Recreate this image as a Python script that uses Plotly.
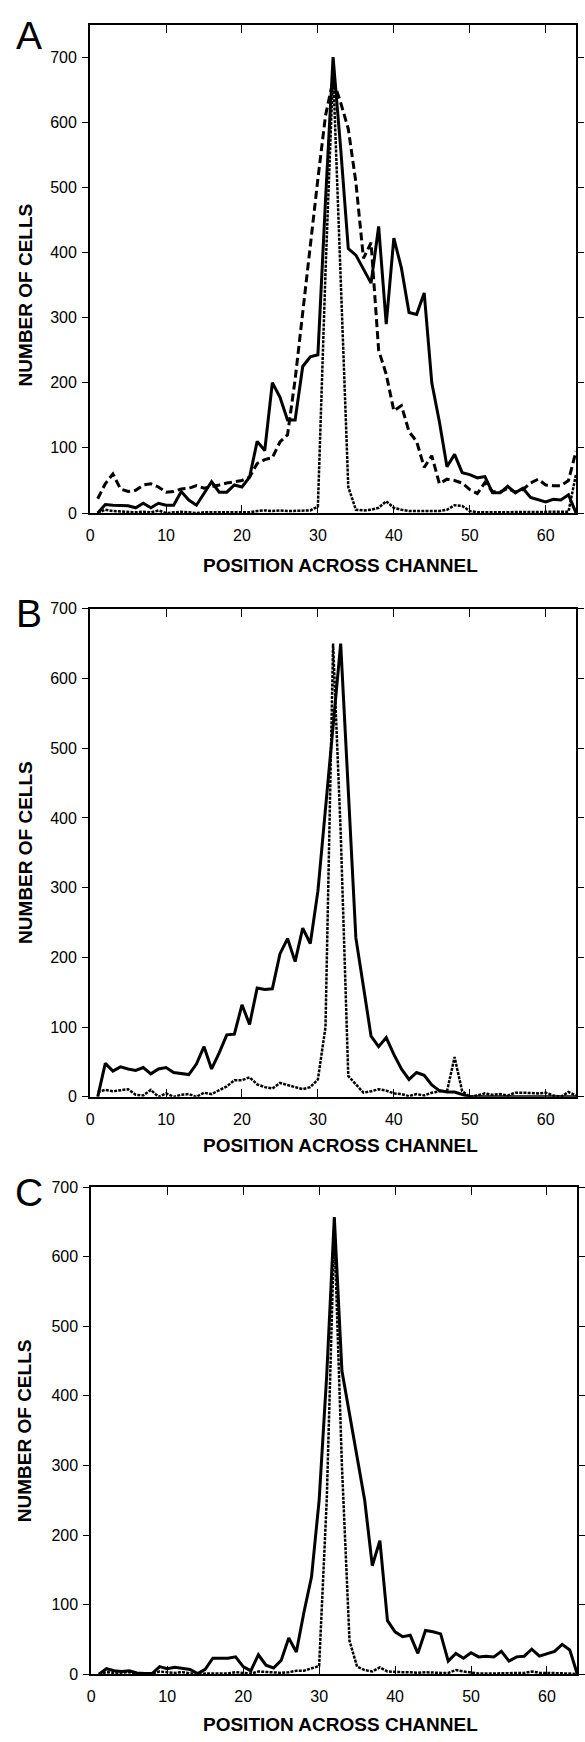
import plotly.graph_objects as go

W, H = 585, 1742

POSITIONS = list(range(1, 65))

A_SOLID = [0, 13, 12, 11, 11, 8, 15, 8, 15, 12, 12, 33, 20, 12, 30, 48, 32, 32, 43, 40,
           55, 110, 96, 200, 178, 143, 143, 225, 240, 243, 480, 700, 560, 406, 396, 375, 353, 440, 290, 422,
           376, 308, 305, 338, 200, 140, 71, 90, 62, 59, 54, 56, 31, 31, 41, 31, 38, 24, 21, 17,
           21, 20, 28, 0]
A_DASHED = [22, 45, 60, 37, 33, 35, 43, 45, 40, 32, 33, 37, 38, 42, 38, 40, 43, 46, 48, 50,
            55, 76, 82, 85, 109, 120, 205, 310, 405, 513, 610, 665, 630, 590, 508, 391, 415, 250, 213, 157,
            165, 125, 110, 70, 88, 45, 52, 50, 46, 36, 30, 47, 33, 32, 38, 32, 36, 46, 52, 43,
            42, 42, 50, 95]
A_DOTTED = [0, 5, 3, 2, 2, 1, 2, 1, 4, 0, 1, 2, 1, 0, 1, 1, 1, 1, 1, 2,
            1, 3, 4, 3, 4, 3, 3, 4, 4, 10, 370, 680, 360, 40, 5, 4, 5, 8, 18, 8,
            5, 3, 3, 3, 3, 3, 5, 12, 11, 3, 1, 1, 1, 1, 1, 1, 1, 1, 1, 1,
            1, 1, 2, 60]

B_SOLID = [0, 48, 37, 43, 40, 38, 42, 33, 40, 42, 35, 34, 32, 47, 72, 40, 63, 89, 90, 132,
           104, 156, 154, 155, 205, 227, 194, 242, 220, 295, 414, 532, 650, 440, 228, 158, 87, 72, 85, 61,
           40, 25, 35, 31, 17, 9, 7, 7, 4, 0, 0, 0, 0, 0, 0, 0, 0, 0, 0, 0,
           0, 0, 0, 0]
B_DOTTED = [7, 10, 8, 10, 11, 3, 2, 10, 0, 5, 0, 3, 4, 0, 6, 4, 10, 15, 24, 24,
            28, 18, 14, 12, 20, 17, 15, 11, 14, 25, 100, 650, 380, 30, 18, 6, 8, 11, 9, 5,
            4, 1, 4, 2, 6, 8, 8, 57, 8, 0, 2, 5, 3, 4, 2, 6, 6, 5, 5, 6,
            2, 0, 7, 2]

C_SOLID = [0, 8, 5, 4, 5, 2, 1, 1, 11, 8, 10, 8, 7, 1, 7, 23, 23, 23, 25, 11,
           5, 28, 13, 9, 20, 52, 32, 89, 140, 250, 430, 657, 436, 374, 317, 250, 156, 192, 77, 61,
           54, 56, 30, 63, 61, 58, 19, 30, 23, 31, 25, 26, 25, 33, 19, 25, 26, 36, 26, 30,
           33, 43, 35, 0]
C_DOTTED = [0, 3, 2, 3, 3, 1, 1, 1, 4, 3, 2, 3, 2, 0, 1, 1, 1, 1, 3, 2,
            1, 4, 3, 2, 2, 3, 5, 5, 8, 12, 250, 640, 300, 48, 11, 6, 4, 10, 4, 3,
            3, 3, 2, 3, 2, 2, 2, 6, 4, 2, 1, 1, 1, 1, 1, 1, 2, 4, 2, 2,
            2, 2, 1, 0]

X_TICKS = [0, 10, 20, 30, 40, 50, 60]
Y_TICKS = [0, 100, 200, 300, 400, 500, 600, 700]
LETTERS = ["A", "B", "C"]
X_TITLE = "POSITION ACROSS CHANNEL"
Y_TITLE = "NUMBER OF CELLS"

FONT = "Liberation Sans, Arial, Helvetica, sans-serif"

STYLES = {
    "solid": dict(width=3, dash="solid"),
    "dash": dict(width=3, dash="8px,4px"),
    "dot": dict(width=2.5, dash="3px,1.2px"),
}

panels = [
    dict(letter=LETTERS[0], x0=87.3, x1=580.0, top=16.7, bottom=510.0, ymax=750,
         series=[(A_DOTTED, "dot"), (A_DASHED, "dash"), (A_SOLID, "solid")],
         letter_xy=(25.5, 27.5), ytitle_y=290, xtitle_y=563),
    dict(letter=LETTERS[1], x0=87.3, x1=580.0, top=606.7, bottom=1099.6, ymax=700,
         series=[(B_DOTTED, "dot"), (B_SOLID, "solid")],
         letter_xy=(25.0, 611.5), ytitle_y=853, xtitle_y=1149),
    dict(letter=LETTERS[2], x0=88.5, x1=581.3, top=1190.7, bottom=1682.7, ymax=700,
         series=[(C_DOTTED, "dot"), (C_SOLID, "solid")],
         letter_xy=(25.5, 1196), ytitle_y=1437, xtitle_y=1733),
]

fig = go.Figure()
annotations = []
layout_axes = {}

for i, p in enumerate(panels):
    n = "" if i == 0 else str(i + 1)
    xa, ya = "x" + n, "y" + n
    for vals, style in p["series"]:
        fig.add_trace(go.Scatter(
            x=POSITIONS, y=vals, mode="lines", xaxis=xa, yaxis=ya,
            line=dict(color="black", **STYLES[style]), showlegend=False,
            hoverinfo="skip"))
    layout_axes["xaxis" + n] = dict(
        domain=[p["x0"] / W, p["x1"] / W], anchor=ya, range=[0, 64],
        tickvals=X_TICKS, ticktext=[str(t) for t in X_TICKS],
        ticks="inside", ticklen=8, tickwidth=1, tickcolor="black",
        showline=True, linewidth=2, linecolor="black", mirror="ticks",
        showgrid=False, zeroline=False, ticklabelstandoff=7,
        tickfont=dict(family=FONT, size=16, color="black"))
    layout_axes["yaxis" + n] = dict(
        domain=[1 - p["bottom"] / H, 1 - p["top"] / H], anchor=xa,
        range=[0, p["ymax"]], tickvals=Y_TICKS, ticktext=[str(t) for t in Y_TICKS],
        ticks="outside", ticklen=6, tickwidth=1, tickcolor="black",
        showline=True, linewidth=2, linecolor="black", mirror="ticks",
        showgrid=False, zeroline=False, ticklabelstandoff=2,
        tickfont=dict(family=FONT, size=16, color="black"))
    lx, ly = p["letter_xy"]
    annotations.append(dict(text=p["letter"], x=lx / W, y=1 - ly / H, xref="paper", yref="paper",
                            xanchor="center", yanchor="middle", showarrow=False,
                            font=dict(family=FONT, size=39, color="black")))
    annotations.append(dict(text="<b>%s</b>" % Y_TITLE, x=21.5 / W, y=1 - p["ytitle_y"] / H,
                            xref="paper", yref="paper", xanchor="center", yanchor="middle",
                            textangle=-90, showarrow=False,
                            font=dict(family=FONT, size=19, color="black")))
    annotations.append(dict(text="<b>%s</b>" % X_TITLE, x=341 / W, y=1 - p["xtitle_y"] / H,
                            xref="paper", yref="paper", xanchor="center", yanchor="middle",
                            showarrow=False,
                            font=dict(family=FONT, size=19, color="black")))

fig.update_layout(
    width=W, height=H, autosize=False,
    margin=dict(l=0, r=0, t=0, b=0, pad=0),
    paper_bgcolor="white", plot_bgcolor="white",
    annotations=annotations, **layout_axes)

fig.write_html("out.html")
